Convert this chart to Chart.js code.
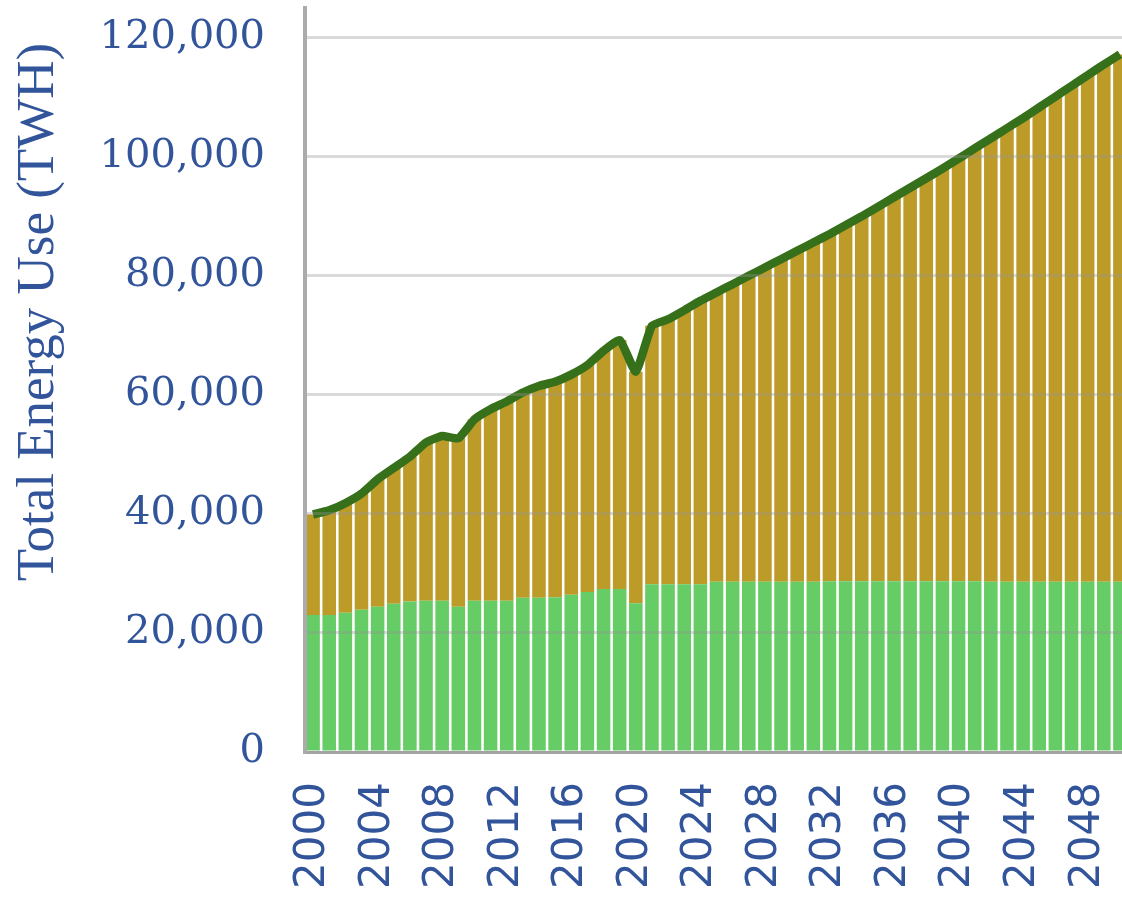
<!DOCTYPE html>
<html>
<head>
<meta charset="utf-8">
<script src="https://cdn.jsdelivr.net/npm/chart.js@4.4.1/dist/chart.umd.min.js"></script>
<style>
  html, body { margin: 0; padding: 0; background: #fff; overflow: hidden; }
  #wrap { position: absolute; left: 0; top: 0; width: 1130px; height: 897px; }
</style>
</head>
<body>
<div id="wrap"><canvas id="chart"></canvas></div>
<script>
// years 2000 - 2050
const anios = [];
for (let a = 2000; a <= 2050; a++) anios.push(String(a));

// total energy use (TWh)
const totales = [
  39900, 40600, 41800, 43400, 45800, 47700, 49600, 52000, 53100, 52700,
  55900, 57600, 58900, 60400, 61500, 62200, 63400, 65000, 67400, 69200,
  63900, 71600, 72700, 74200, 75800, 77200, 78600, 80000, 81400, 82800,
  84200, 85600, 87000, 88500, 90000, 91600, 93200, 94800, 96400, 98000,
  99700, 101400, 103100, 104800, 106500, 108300, 110100, 111900, 113700, 115500,
  117200
];

// lower (green) segment
const verdes = [
  23000, 23000, 23400, 23900, 24400, 24900, 25300, 25400, 25400, 24400,
  25400, 25400, 25400, 25900, 25900, 26000, 26400, 26900, 27400, 27400,
  25000, 28200, 28200, 28200, 28200, 28600, 28600, 28600, 28600, 28600,
  28600, 28600, 28700, 28700, 28700, 28700, 28700, 28700, 28700, 28700,
  28700, 28700, 28600, 28600, 28600, 28600, 28600, 28600, 28600, 28600,
  28600
];

const ticksY = [0, 20000, 40000, 60000, 80000, 100000, 120000];
const tituloY = 'Total Energy Use (TWH)';

const colorAzul = '#32549a';

// upper (gold) segment = total - green
const dorados = totales.map((t, i) => t - verdes[i]);

const tituloPlugin = {
  id: 'tituloY',
  afterDraw(chart) {
    const ctx = chart.ctx;
    ctx.save();
    ctx.translate(53, 312);
    ctx.rotate(-Math.PI / 2);
    ctx.font = '53px "Liberation Serif"';
    ctx.fillStyle = colorAzul;
    ctx.textAlign = 'center';
    ctx.textBaseline = 'alphabetic';
    ctx.fillText(tituloY, 0, 0);
    ctx.restore();
  }
};

const ctx = document.getElementById('chart').getContext('2d');

new Chart(ctx, {
  data: {
    labels: anios,
    datasets: [
      {
        type: 'line',
        label: 'Total',
        data: totales,
        borderColor: '#36701b',
        borderWidth: 8.5,
        pointRadius: 0,
        tension: 0.15,
        stack: 'linea',
        order: 0
      },
      {
        type: 'bar',
        label: 'Verde',
        data: verdes,
        backgroundColor: '#66cc66',
        barPercentage: 0.84,
        categoryPercentage: 1,
        order: 1
      },
      {
        type: 'bar',
        label: 'Dorado',
        data: dorados,
        backgroundColor: '#bd9b28',
        barPercentage: 0.84,
        categoryPercentage: 1,
        order: 1
      }
    ]
  },
  options: {
    responsive: true,
    maintainAspectRatio: false,
    animation: false,
    layout: { padding: { top: 8, right: 2, left: 0, bottom: 0 } },
    plugins: {
      legend: { display: false },
      tooltip: { enabled: false }
    },
    scales: {
      x: {
        stacked: true,
        grid: { display: false, drawTicks: false },
        border: { display: true, color: '#ababab', width: 3 },
        ticks: {
          autoSkip: false,
          maxRotation: 90,
          minRotation: 90,
          padding: 30,
          color: colorAzul,
          font: { family: '"DejaVu Sans"', size: 42 },
          callback: function (v, i) {
            const a = Number(anios[i]);
            return (a - 2000) % 4 === 0 && a < 2050 ? anios[i] : '';
          }
        },
        afterFit(scale) {
          scale.height = 145;
          scale.paddingLeft = 0;
          scale.paddingRight = 0;
        }
      },
      y: {
        stacked: true,
        min: 0,
        max: 125000,
        grid: {
          color: 'rgba(150,150,150,0.35)',
          lineWidth: 3,
          drawTicks: false,
          z: 1
        },
        border: { display: true, color: '#ababab', width: 4, z: 2 },
        afterBuildTicks(scale) {
          scale.ticks = ticksY.map(v => ({ value: v }));
        },
        ticks: {
          padding: 40,
          color: colorAzul,
          font: { family: '"DejaVu Serif"', size: 40 },
          callback: v => v.toLocaleString('en-US')
        },
        afterFit(scale) {
          scale.width = 305;
          scale.paddingTop = 0;
          scale.paddingBottom = 0;
        }
      }
    }
  },
  plugins: [tituloPlugin]
});
</script>
</body>
</html>
